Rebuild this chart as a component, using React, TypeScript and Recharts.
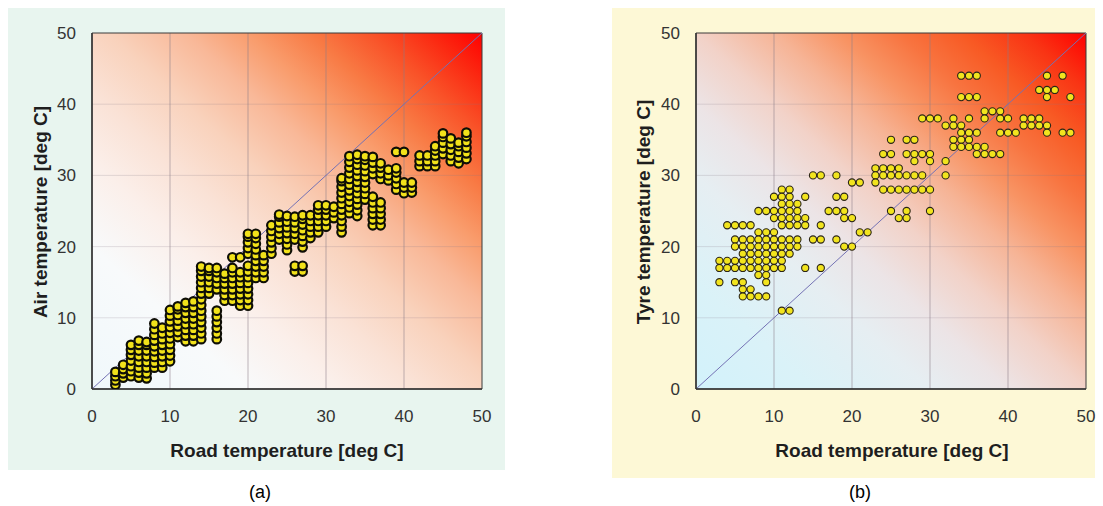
import React from 'react';
import {
  ScatterChart,
  Scatter,
  XAxis,
  YAxis,
  CartesianGrid,
  ReferenceLine,
  ReferenceArea,
} from 'recharts';

const FONT = '"Liberation Sans", Arial, Helvetica, sans-serif';

// ---------- Tick labels ----------
const axisTicks = [0, 10, 20, 30, 40, 50];

// ---------- Panel (a): road temperature columns and air temperatures ----------
const roadColumnsA = [
  3, 4, 5, 6, 7, 8, 9, 10, 11, 12, 13, 14, 15, 16, 17, 18, 19, 20, 21, 22, 23, 24, 25,
  26, 27, 28, 29, 30, 31, 32, 33, 34, 35, 36, 37, 38, 39, 40, 41, 42, 43, 44, 45, 46, 47, 48,
];
const airColumnsA = [
  [0.6, 1.2, 1.8, 2.4],
  [1.6, 2.2, 2.8, 3.4],
  [1.8, 2.5, 3.2, 4.0, 4.8, 5.5, 6.2],
  [1.6, 2.3, 3.0, 3.8, 4.6, 5.4, 6.2, 6.8],
  [1.5, 2.2, 3.0, 3.8, 4.6, 5.4, 6.2, 6.6],
  [3.0, 3.7, 4.5, 5.3, 6.0, 6.8, 7.6, 8.4, 9.2],
  [3.0, 3.8, 4.6, 5.4, 6.2, 7.0, 7.8, 8.6],
  [3.9, 4.7, 5.5, 6.3, 7.1, 7.9, 8.7, 9.5, 10.3, 11.1],
  [7.3, 8.0, 8.8, 9.6, 10.4, 11.2, 11.6],
  [6.7, 7.5, 8.3, 9.1, 9.9, 10.7, 11.5, 12.1],
  [6.7, 7.5, 8.3, 9.1, 9.9, 10.7, 11.5, 12.3],
  [7.0, 7.8, 8.6, 9.4, 10.2, 11.0, 11.8, 12.6, 13.4, 14.2, 15.0, 15.8, 16.6, 17.2],
  [13.4, 14.2, 15.0, 15.8, 16.6, 17.0],
  [7.0, 7.8, 8.6, 9.4, 10.2, 11.0, 14.0, 14.8, 15.6, 16.4, 17.0],
  [12.4, 13.2, 14.0, 14.8, 15.6, 16.2],
  [12.4, 13.2, 14.0, 14.8, 15.6, 16.4, 17.0, 18.5],
  [11.7, 12.5, 13.3, 14.1, 14.9, 15.7, 16.4, 18.5],
  [11.7, 12.5, 13.3, 14.1, 14.9, 15.7, 16.5, 17.3, 19.0, 19.8, 20.6, 21.4, 21.8],
  [15.6, 16.4, 17.2, 18.0, 18.8, 19.6, 20.4, 21.2, 21.8],
  [15.6, 16.4, 17.2, 18.0, 18.8],
  [19.0, 19.8, 20.6, 21.4, 22.2, 23.0],
  [21.0, 21.8, 22.6, 23.4, 24.2, 24.5],
  [19.5, 20.3, 21.1, 21.9, 22.7, 23.5, 24.3],
  [16.5, 17.3, 21.0, 21.8, 22.6, 23.4, 24.2],
  [16.5, 17.3, 19.9, 20.7, 21.5, 22.3, 23.1, 23.9, 24.4],
  [21.2, 22.0, 22.8, 23.6, 24.4],
  [22.0, 22.8, 23.6, 24.4, 25.2, 25.8],
  [22.8, 23.6, 24.4, 25.2, 25.8],
  [24.0, 24.8, 25.6],
  [22.0, 22.8, 23.6, 24.4, 25.2, 26.0, 26.8, 27.6, 28.4, 29.2, 29.6],
  [24.7, 25.5, 26.3, 27.1, 27.9, 28.7, 29.5, 30.3, 31.1, 31.9, 32.7],
  [24.3, 25.1, 25.9, 26.7, 27.5, 28.3, 29.1, 29.9, 30.7, 31.5, 32.3, 32.9],
  [26.6, 27.4, 28.2, 29.0, 29.8, 30.6, 31.4, 32.2, 32.7],
  [23.0, 23.8, 24.6, 25.4, 26.2, 27.0, 30.2, 31.0, 31.8, 32.6],
  [23.0, 23.8, 24.6, 25.4, 26.2, 29.5, 30.3, 31.1, 31.7],
  [29.3, 30.0, 30.8],
  [28.0, 28.8, 29.6, 30.4, 31.0, 33.3],
  [27.5, 28.3, 29.0, 33.3],
  [27.6, 28.3, 29.0],
  [31.3, 32.0, 32.8],
  [31.3, 32.0, 32.8],
  [31.3, 32.0, 32.8, 33.5, 34.1],
  [33.0, 33.8, 34.6, 35.4, 35.9],
  [32.0, 32.8, 33.6, 34.4, 35.2],
  [31.7, 32.5, 33.3, 34.1, 34.6],
  [32.3, 33.1, 33.9, 34.7, 35.5, 36.0],
];

// ---------- Panel (b): tyre temperature rows and road temperatures ----------
const tyreRowsB = [
  44, 42, 41, 39, 38, 37, 36, 35, 34, 33, 32, 31, 30, 29, 28, 27, 26, 25, 24, 23, 22, 21, 20,
  19, 18, 17, 16, 15, 14, 13, 11,
];
const roadRowsB = [
  [34, 35, 36, 45, 47],
  [44, 45, 46],
  [34, 35, 36, 45, 48],
  [37, 38, 39],
  [29, 30, 31, 33, 35, 37, 39, 40, 42, 43, 44],
  [32, 33, 34, 42, 43, 44, 45],
  [34, 35, 36, 39, 40, 41, 45, 47, 48],
  [25, 27, 28, 33, 34, 35],
  [33, 34, 35, 36, 37],
  [24, 25, 27, 28, 29, 30, 36, 37, 38, 39],
  [28, 30, 32],
  [23, 24, 25, 26],
  [15, 16, 18, 23, 24, 25, 26, 27, 28, 29, 32],
  [20, 21, 23],
  [11, 12, 24, 25, 26, 27, 28, 29, 30],
  [10, 11, 12, 14, 18, 19],
  [11, 12, 13],
  [8, 9, 10, 11, 12, 13, 17, 18, 19, 25, 27, 30],
  [10, 11, 12, 13, 14, 19, 20, 26, 27],
  [4, 5, 6, 7, 11, 12, 13, 14, 16],
  [8, 9, 10, 21, 22],
  [5, 6, 7, 8, 9, 10, 11, 12, 13, 15, 16, 18],
  [5, 6, 7, 8, 9, 10, 11, 12, 13, 19, 20],
  [6, 7, 8, 9, 10, 11, 12],
  [3, 4, 5, 6, 7, 8, 9, 10, 11],
  [3, 4, 5, 6, 7, 8, 9, 10, 11, 14, 16],
  [8, 9],
  [3, 5, 6, 9],
  [6, 7],
  [6, 7, 8, 9],
  [11, 12],
];

const pointsA = roadColumnsA.flatMap((x, i) => airColumnsA[i].map((y) => ({ x, y })));
const pointsB = tyreRowsB.flatMap((y, i) => roadRowsB[i].map((x) => ({ x, y })));

const DotA = (props: any) => {
  const { cx, cy } = props;
  if (cx == null || cy == null) return null;
  return <circle cx={cx} cy={cy} r={4.3} fill="#f2e21a" stroke="#0e0e06" strokeWidth={2.2} />;
};
const DotB = (props: any) => {
  const { cx, cy } = props;
  if (cx == null || cy == null) return null;
  return <circle cx={cx} cy={cy} r={3.6} fill="#f2e41e" stroke="#2a2418" strokeWidth={1.1} />;
};

const tickStyle = { fill: '#333', fontSize: 17, fontFamily: FONT };
const titleStyle: React.CSSProperties = {
  position: 'absolute',
  fontFamily: FONT,
  fontWeight: 'bold',
  fontSize: 19,
  color: '#1e1e1e',
  whiteSpace: 'nowrap',
  lineHeight: 1,
};

function Panel({
  points,
  gradId,
  Dot,
  rightMargin,
  yAxisWidth,
}: {
  points: { x: number; y: number }[];
  gradId: string;
  Dot: any;
  rightMargin: number;
  yAxisWidth: number;
}) {
  return (
    <ScatterChart
      width={yAxisWidth + 390 + rightMargin}
      height={506}
      margin={{ top: 33, right: rightMargin, bottom: 77, left: 0 }}
    >
      <CartesianGrid
        fill={`url(#${gradId})`}
        horizontal={false}
        stroke="#8a7c88"
        strokeOpacity={0.55}
        verticalValues={[10, 20, 30, 40]}
      />
      <CartesianGrid
        vertical={false}
        stroke="#8a7c88"
        strokeOpacity={0.22}
        horizontalValues={[10, 20, 30, 40]}
      />
      <XAxis
        type="number"
        dataKey="x"
        domain={[0, 50]}
        ticks={axisTicks}
        allowDataOverflow
        tickSize={0}
        tickMargin={21}
        height={40}
        axisLine={{ stroke: '#333', strokeWidth: 1.5 }}
        tick={tickStyle}
      />
      <YAxis
        type="number"
        dataKey="y"
        domain={[0, 50]}
        ticks={axisTicks}
        allowDataOverflow
        tickSize={0}
        tickMargin={16}
        width={yAxisWidth}
        axisLine={{ stroke: '#333', strokeWidth: 1.5 }}
        tick={tickStyle}
      />
      <ReferenceArea x1={0} x2={50} y1={0} y2={50} fillOpacity={0} stroke="#3a3a3a" strokeWidth={1} />
      <ReferenceLine
        segment={[
          { x: 0, y: 0 },
          { x: 50, y: 50 },
        ]}
        stroke="#7472b4"
        strokeWidth={1}
      />
      <Scatter data={points} isAnimationActive={false} shape={Dot} />
    </ScatterChart>
  );
}

export default function App() {
  return (
    <div
      style={{
        position: 'absolute',
        left: 0,
        top: 0,
        width: 1103,
        height: 506,
        background: '#ffffff',
        overflow: 'hidden',
      }}
    >
      <svg width={0} height={0} style={{ position: 'absolute' }}>
        <defs>
          <linearGradient id="gradA" x1="0" y1="1" x2="1" y2="0">
            <stop offset="0" stopColor="#f0f8fb" />
            <stop offset="0.2" stopColor="#f8fafb" />
            <stop offset="0.32" stopColor="#fbefea" />
            <stop offset="0.42" stopColor="#fae2d6" />
            <stop offset="0.52" stopColor="#f9d2bc" />
            <stop offset="0.62" stopColor="#f9b898" />
            <stop offset="0.7" stopColor="#f99c6c" />
            <stop offset="0.78" stopColor="#f87a44" />
            <stop offset="0.86" stopColor="#f95228" />
            <stop offset="0.93" stopColor="#fb2a12" />
            <stop offset="1" stopColor="#ff0000" />
          </linearGradient>
          <linearGradient id="gradB" x1="0" y1="1" x2="1" y2="0">
            <stop offset="0" stopColor="#d2f2fb" />
            <stop offset="0.15" stopColor="#daf2f8" />
            <stop offset="0.3" stopColor="#e6eef2" />
            <stop offset="0.4" stopColor="#ece4e6" />
            <stop offset="0.5" stopColor="#f2d2c8" />
            <stop offset="0.6" stopColor="#f6b496" />
            <stop offset="0.68" stopColor="#f89464" />
            <stop offset="0.76" stopColor="#f87440" />
            <stop offset="0.84" stopColor="#f85a24" />
            <stop offset="0.92" stopColor="#f93414" />
            <stop offset="1" stopColor="#ff0000" />
          </linearGradient>
        </defs>
      </svg>

      {/* panel backgrounds */}
      <div style={{ position: 'absolute', left: 8, top: 8, width: 497, height: 462, background: '#e8f5ef' }} />
      <div style={{ position: 'absolute', left: 612, top: 8, width: 483, height: 470, background: '#fdf8d6' }} />

      {/* chart (a) */}
      <div style={{ position: 'absolute', left: 0, top: 0 }}>
        <Panel points={pointsA} gradId="gradA" Dot={DotA} rightMargin={38} yAxisWidth={92} />
      </div>
      {/* chart (b) */}
      <div style={{ position: 'absolute', left: 560, top: 0 }}>
        <Panel points={pointsB} gradId="gradB" Dot={DotB} rightMargin={17} yAxisWidth={136} />
      </div>

      {/* titles (a) */}
      <div style={{ ...titleStyle, left: 40, top: 212, transform: 'translate(-50%, -50%) rotate(-90deg)' }}>
        Air temperature [deg C]
      </div>
      <div style={{ ...titleStyle, left: 287, top: 450, transform: 'translate(-50%, -50%)' }}>
        Road temperature [deg C]
      </div>
      <div
        style={{
          position: 'absolute',
          left: 260,
          top: 492,
          transform: 'translate(-50%, -50%)',
          fontFamily: FONT,
          fontSize: 18,
          color: '#000',
          lineHeight: 1,
        }}
      >
        (a)
      </div>

      {/* titles (b) */}
      <div style={{ ...titleStyle, left: 643, top: 212, transform: 'translate(-50%, -50%) rotate(-90deg)' }}>
        Tyre temperature [deg C]
      </div>
      <div style={{ ...titleStyle, left: 892, top: 450, transform: 'translate(-50%, -50%)' }}>
        Road temperature [deg C]
      </div>
      <div
        style={{
          position: 'absolute',
          left: 860,
          top: 492,
          transform: 'translate(-50%, -50%)',
          fontFamily: FONT,
          fontSize: 18,
          color: '#000',
          lineHeight: 1,
        }}
      >
        (b)
      </div>
    </div>
  );
}
